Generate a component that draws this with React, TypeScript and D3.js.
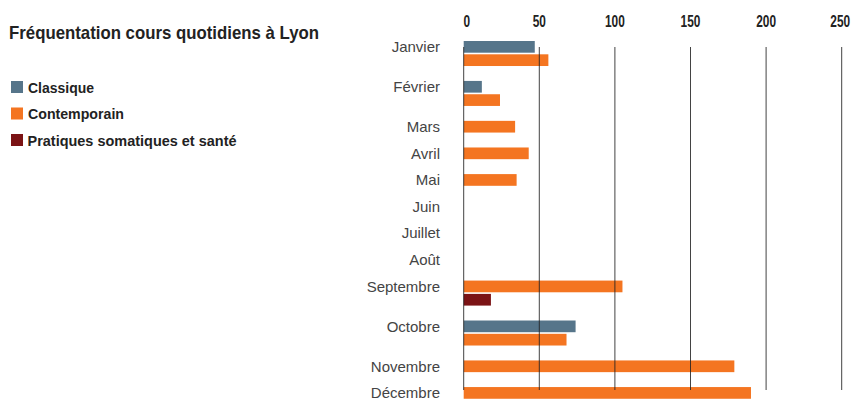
import * as d3 from "d3";

const width = 853;
const height = 400;

const title = "Fréquentation cours quotidiens à Lyon";
const months = ["Janvier", "Février", "Mars", "Avril", "Mai", "Juin", "Juillet", "Août", "Septembre", "Octobre", "Novembre", "Décembre"];
const seriesNames = ["Classique", "Contemporain", "Pratiques somatiques et santé"];
const seriesColors = ["#56758a", "#f47521", "#7b1315"];
const classique = [47, 12, 0, 0, 0, 0, 0, 0, 0, 74, 0, 0];
const contemporain = [56, 24, 34, 43, 35, 0, 0, 0, 105, 68, 179, 190];
const pratiques = [0, 0, 0, 0, 0, 0, 0, 0, 18, 0, 0, 0];
const ticks = [0, 50, 100, 150, 200, 250];

const series = [classique, contemporain, pratiques];

// condensed look: no narrow font installed, so squeeze text to the measured widths
const legendWidths = [66, 96, 209];
const boldFont = "Liberation Sans, Arial, sans-serif";

// each month gets one slot per non-zero bar (at least one) plus one slot of gap
const slots = months.map((_, i) => Math.max(1, series.filter((s) => s[i] > 0).length) + 1);
const starts = d3.cumsum([0, ...slots]);

const unit = 13.31;
const barH = 11.7;
const top = 41;

const App = () => {
  const x = d3.scaleLinear().domain([0, 250]).range([463.7, 841.7]);
  const y = d3.scaleLinear().domain([0, 1]).range([top, top + unit]);

  const bars: { key: string; x: number; y: number; w: number; color: string }[] = [];
  months.forEach((m, i) => {
    let k = 0;
    series.forEach((s, j) => {
      if (s[i] > 0) {
        bars.push({ key: `${m}-${j}`, x: x(0), y: y(starts[i] + k), w: x(s[i]) - x(0), color: seriesColors[j] });
        k++;
      }
    });
  });

  return (
    <svg width={width} height={height} style={{ position: "absolute", left: 0, top: 0, background: "#fff" }}>
      <text x={9} y={39} fontFamily={boldFont} fontWeight="bold" fontSize={18.5} fill="#222" textLength={310} lengthAdjust="spacingAndGlyphs">
        {title}
      </text>
      <g className="legend">
        {seriesNames.map((name, i) => (
          <g key={name} transform={`translate(11,${81 + i * 26.5})`}>
            <rect width={12} height={12} fill={seriesColors[i]} />
            <text x={i === 2 ? 16.5 : 17} y={11.5} fontFamily={boldFont} fontWeight="bold" fontSize={15} fill="#222" textLength={legendWidths[i]} lengthAdjust="spacingAndGlyphs">
              {name}
            </text>
          </g>
        ))}
      </g>
      <g className="x-axis">
        {ticks.map((t) => (
          <text
            key={t}
            x={x(t) + (t === 0 ? 3 : t === 250 ? -1.5 : 0)}
            y={26.5}
            textAnchor="middle"
            fontFamily={boldFont}
            fontWeight="bold"
            fontSize={17}
            fill="#222"
            textLength={String(t).length * 6.6}
            lengthAdjust="spacingAndGlyphs"
          >
            {t}
          </text>
        ))}
      </g>
      <g className="bars">
        {bars.map((b) => (
          <rect key={b.key} x={b.x} y={b.y} width={b.w} height={barH} fill={b.color} />
        ))}
      </g>
      <g className="grid">
        {ticks.map((t) => (
          <line key={t} x1={x(t)} x2={x(t)} y1={47} y2={390} stroke="#222" strokeOpacity={0.85} strokeWidth={1} />
        ))}
      </g>
      <g className="labels">
        {months.map((m, i) => (
          <text key={m} x={440} y={y(starts[i]) + barH / 2} dy="0.35em" textAnchor="end" fontFamily="Liberation Sans" fontSize={15} fill="#444">
            {m}
          </text>
        ))}
      </g>
    </svg>
  );
};

export default App;
